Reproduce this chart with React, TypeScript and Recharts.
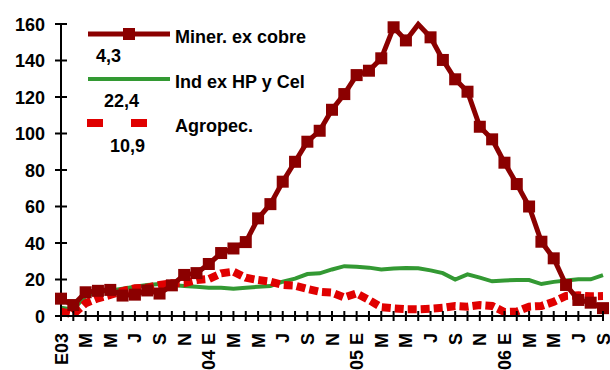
import { LineChart, Line, XAxis, YAxis } from 'recharts';

// month labels, only every second one is drawn under the axis
const categories = [
  'E03', 'F', 'M', 'A', 'M', 'J', 'J', 'A', 'S', 'O', 'N', 'D',
  '04 E', 'F', 'M', 'A', 'M', 'J', 'J', 'A', 'S', 'O', 'N', 'D',
  '05 E', 'F', 'M', 'A', 'M', 'J', 'J', 'A', 'S', 'O', 'N', 'D',
  '06 E', 'F', 'M', 'A', 'M', 'J', 'J', 'A', 'S',
];

const minerExCobre = [
  9.5, 6, 13, 13.8, 14.3, 11.2, 11.7, 14, 12.3, 16.8, 22.5, 23.5,
  28.5, 34.5, 37, 40.5, 53.5, 61.3, 73.6, 84.5, 95.5, 101.5, 113, 121.6,
  132, 134.4, 141.2, 158.2, 151, 159.8, 152.7, 140.3, 129.7, 122.9, 103.7, 96.8,
  84, 72.3, 60, 40.7, 31.6, 17, 8.8, 7.3, 4.3,
];

const indExHpCel = [
  4.5, 3.5, 11, 13, 14, 15, 16, 17, 17.5, 17, 16.5, 16,
  15.5, 15.5, 15, 15.5, 16, 16.4, 18.8, 20.5, 23, 23.4, 25.5, 27.3,
  27, 26.5, 25.5, 26, 26.3, 26.1, 25, 23.5, 20, 22.8, 21, 19,
  19.5, 19.7, 19.7, 17.5, 18.7, 19.5, 20.1, 20.1, 22.4,
];

const agropec = [
  2.4, 0.9, 7, 9.7, 11.5, 13.7, 15.2, 15.5, 17, 17.9, 18, 19.7,
  20.3, 23.4, 24.3, 21, 19.7, 18.8, 17, 16.6, 14.8, 13.3, 12.8, 10.2,
  12.4, 8.8, 4.8, 4.2, 3.7, 3.7, 4, 4.5, 5.5, 5.1, 6, 5.5,
  2.2, 2.4, 5.1, 5.5, 7.8, 11, 11.3, 10.8, 10.9,
];

const yTicks = [0, 20, 40, 60, 80, 100, 120, 140, 160];

const data = categories.map((cat, i) => ({
  cat,
  miner: minerExCobre[i],
  ind: indExHpCel[i],
  agro: agropec[i],
}));

const DARK = '#8B0000';
const GREEN = '#339933';
const RED = '#E00000';
const FONT = '"Liberation Sans", Arial, sans-serif';

const XTick = (p: any) => {
  const i = p.index;
  return (
    <g>
      <line x1={p.x} x2={p.x} y1={p.y - 5} y2={p.y + 5} stroke="#000" strokeWidth={2} />
      {i % 2 === 0 && (
        <text
          transform={`translate(${p.x + 6.5},${p.y + 17}) rotate(-90)`}
          textAnchor="end"
          fontFamily={FONT}
          fontWeight="bold"
          fontSize={18}
          fill="#000"
        >
          {categories[i]}
        </text>
      )}
    </g>
  );
};

const YTick = (p: any) => (
  <g>
    <line x1={p.x - 6} x2={p.x + 6} y1={p.y} y2={p.y} stroke="#000" strokeWidth={2} />
    <text
      x={p.x - 16}
      y={p.y}
      dy={6.5}
      textAnchor="end"
      fontFamily={FONT}
      fontWeight="bold"
      fontSize={18}
      fill="#000"
    >
      {p.payload.value}
    </text>
  </g>
);

// square markers; the reference has no marker at the second peak
const MinerDot = (p: any) => {
  if (p.index === 29) return <g key={`md${p.index}`} />;
  return (
    <rect
      key={`md${p.index}`}
      x={p.cx - 6}
      y={p.cy - 6}
      width={12}
      height={12}
      fill={DARK}
    />
  );
};

const legendText = {
  fontFamily: FONT,
  fontWeight: 'bold' as const,
  fontSize: 18,
  fill: '#000',
};

export default function App() {
  return (
    <div style={{ position: 'absolute', left: 0, top: 0, width: 610, height: 370, background: '#fff' }}>
      <LineChart width={610} height={370} data={data} margin={{ top: 24, right: 7, bottom: 0, left: 0 }}>
        <XAxis
          dataKey="cat"
          interval={0}
          height={54}
          tickLine={false}
          tickSize={0}
          tickMargin={0}
          axisLine={{ stroke: '#000', strokeWidth: 2 }}
          tick={XTick}
        />
        <YAxis
          width={61}
          domain={[0, 160]}
          ticks={yTicks}
          interval={0}
          tickLine={false}
          tickSize={0}
          tickMargin={0}
          axisLine={{ stroke: '#000', strokeWidth: 2 }}
          tick={YTick}
        />
        <Line
          type="linear"
          dataKey="ind"
          stroke={GREEN}
          strokeWidth={4}
          dot={false}
          activeDot={false}
          isAnimationActive={false}
        />
        <Line
          type="linear"
          dataKey="agro"
          stroke={RED}
          strokeWidth={8}
          strokeDasharray="9 4"
          dot={false}
          activeDot={false}
          isAnimationActive={false}
        />
        <Line
          type="linear"
          dataKey="miner"
          stroke={DARK}
          strokeWidth={5}
          dot={MinerDot}
          activeDot={false}
          isAnimationActive={false}
        />
      </LineChart>
      <svg
        width={610}
        height={370}
        style={{ position: 'absolute', left: 0, top: 0, pointerEvents: 'none' }}
      >
        <line x1={88} x2={170} y1={34} y2={34} stroke={DARK} strokeWidth={5} />
        <rect x={123} y={28} width={12} height={12} fill={DARK} />
        <text x={175} y={43} {...legendText}>Miner. ex cobre</text>
        <text x={96} y={62} {...legendText}>4,3</text>

        <line x1={88} x2={170} y1={79} y2={79} stroke={GREEN} strokeWidth={4} />
        <text x={175} y={88} {...legendText}>Ind ex HP y Cel</text>
        <text x={104} y={107} {...legendText}>22,4</text>

        <rect x={87} y={119} width={16} height={8} fill={RED} />
        <rect x={131} y={119} width={16} height={8} fill={RED} />
        <text x={175} y={132} {...legendText}>Agropec.</text>
        <text x={110} y={152} {...legendText}>10,9</text>
      </svg>
    </div>
  );
}
